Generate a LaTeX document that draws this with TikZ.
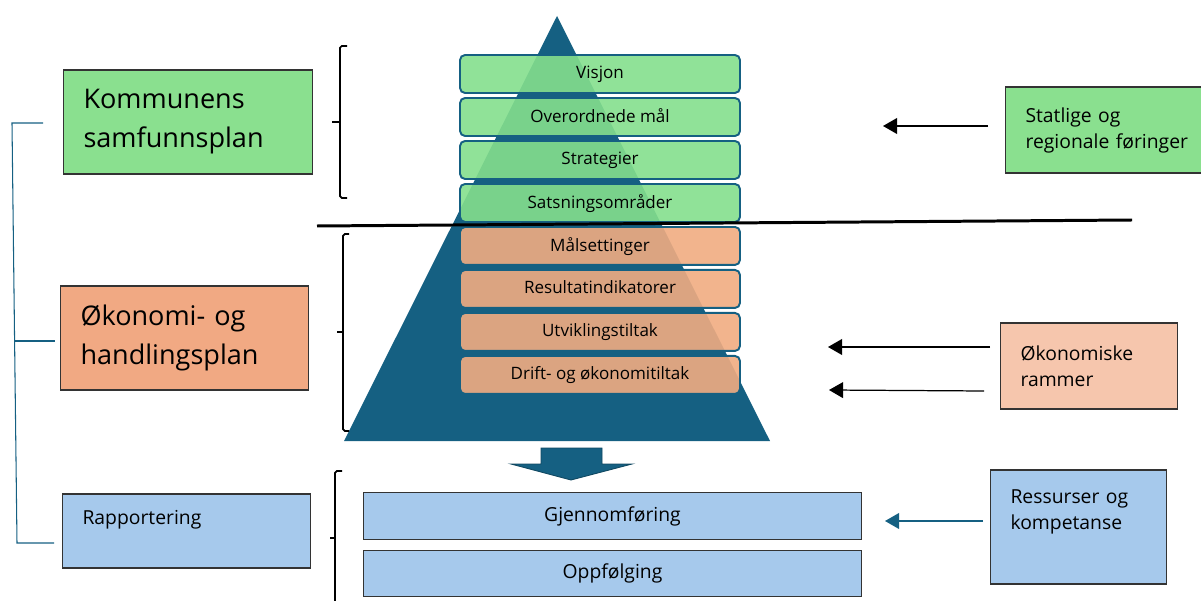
\documentclass[tikz,border=0pt]{standalone}
\usepackage{fontspec}
\setmainfont{Open Sans}
\usepackage{tikz}
\usetikzlibrary{arrows.meta}
\definecolor{pyrblue}{HTML}{156082}
\definecolor{planGreen}{HTML}{8AE08F}
\definecolor{planOrange}{HTML}{F1A983}
\definecolor{frameOrange}{HTML}{F6C6AD}
\definecolor{planBlue}{HTML}{A6C9EC}
\definecolor{layerGreen}{HTML}{84DF8D}
\definecolor{layerOrange}{HTML}{F1AC81}
\newcommand{\planfont}{\fontsize{15.4}{22.2}\selectfont}
\newcommand{\notefont}{\fontsize{11}{14.8}\selectfont}
\newcommand{\layerfont}{\fontsize{9.7}{11}\selectfont}
\tikzstyle{sidebox}  = [rectangle,
                        draw=black!80,
                        line width=.6pt,
                        anchor=west,
                        align=left,
                        inner xsep=.4cm,
                        inner ysep=.1cm]
\tikzstyle{layer}    = [rectangle,
                        rounded corners=.1cm,
                        draw=pyrblue,
                        line width=1.1pt,
                        minimum width=5.6cm,
                        minimum height=.76cm,
                        text depth=.06cm,
                        fill opacity=.9,
                        text opacity=1,
                        font=\layerfont]
\tikzstyle{line}     = [draw, -{Triangle[length=8pt,width=9pt]}, line width=.7pt]

\begin{document}
\begin{tikzpicture}[%
  x=0.02cm,
  y=-0.02cm,
  node distance = .86cm,
  % Flat boxes under the pyramid:
  flat/.style={%
    rectangle,
    draw=black!80,
    line width=.6pt,
    fill=planBlue,
    minimum width=9.98cm,
    minimum height=.93cm,
    font=\notefont
  },
  brace/.style={draw, line width=1pt, rounded corners=1pt},
  tree/.style={draw=pyrblue, line width=.6pt}
  ]

  \useasboundingbox (0,0) rectangle (1201,601);

  % Pyramid:
  \coordinate (apex) at (557,16);
  \coordinate (base-l) at (344,441);
  \coordinate (base-r) at (770,441);
  \fill[pyrblue] (apex) -- (base-r) -- (base-l) -- cycle;

  % Layers:
  \node (visjon) [layer, fill=layerGreen] at (600,74) {Visjon};
  \node (maal) [layer, fill=layerGreen, below of=visjon] {Overordnede mål};
  \node (strategier) [layer, fill=layerGreen, below of=maal] {Strategier};
  \node (satsning) [layer, fill=layerGreen, below of=strategier] {Satsningsområder};
  \node (maalsetting) [layer, fill=layerOrange, below of=satsning] {Målsettinger};
  \node (indikator) [layer, fill=layerOrange, below of=maalsetting] {Resultatindikatorer};
  \node (utvikling) [layer, fill=layerOrange, below of=indikator] {Utviklingstiltak};
  \node (drift) [layer, fill=layerOrange, below of=utvikling] {Drift- og økonomitiltak};

  \draw[line width=1.7pt] (317,226) -- (1132,220);

  % Down arrow:
  \filldraw[fill=pyrblue, draw=pyrblue!75!black, line width=.5pt]
    (541,448) -- (602,448) -- (602,464) -- (632,464) -- (571,480) -- (511,464) -- (541,464) -- cycle;

  \node (gjennomfoering) [flat] at (612.5,516) {Gjennomføring};
  \node (oppfoelging) [flat, below of=gjennomfoering, node distance=1.15cm] {Oppfølging};

  % Plans on the left:
  \node (samfunnsplan) [sidebox, fill=planGreen, text width=4.18cm, minimum height=2.08cm, font=\planfont] at (63,122) {Kommunens\\samfunnsplan};
  \node (handlingsplan) [sidebox, fill=planOrange, text width=4.16cm, minimum height=2.08cm, font=\planfont] at (60,338) {Økonomi- og\\handlingsplan};
  \node (rapportering) [sidebox, fill=planBlue, text width=4.16cm, minimum height=1.48cm, text depth=.54cm, font=\notefont] at (62,531) {Rapportering};

  % Inputs on the right:
  \node (statlige) [sidebox, fill=planGreen, text width=3.4cm, minimum height=1.72cm, font=\notefont] at (1005,130) {Statlige og\\regionale føringer};
  \node (rammer) [sidebox, fill=frameOrange, text width=2.74cm, minimum height=1.72cm, font=\notefont] at (1000,366) {Økonomiske\\rammer};
  \node (ressurser) [sidebox, fill=planBlue, text width=2.72cm, minimum height=2.28cm, text depth=1.2cm, font=\notefont] at (990,527) {Ressurser og\\kompetanse};

  % Brackets:
  \draw[brace] (347,46) -- (340,46) -- (340,198) -- (347,198);
  \draw[brace] (340,122) -- (332,122);
  \draw[brace] (349,234) -- (343,234) -- (343,431) -- (349,431);
  \draw[brace] (343,332) -- (337,332);
  \draw[brace] (342,471) -- (335,471) -- (335,610);
  \draw[brace] (335,538) -- (330,538);

  \draw[tree] (43,123) -- (12,123) -- (17,543) -- (54,543);
  \draw[tree] (15,341) -- (55,341);

  % Connectors:
  \coordinate (statlige-tip) at (883,126);
  \coordinate (rammer-tip1) at (828,347);
  \coordinate (rammer-tip2) at (829,390);
  \coordinate (ressurser-tip) at (885,521);
  \draw[line] ([shift={(-17,-4)}]statlige.west) -- (statlige-tip);
  \draw[line] ([shift={(-10,-19)}]rammer.west) -- (rammer-tip1);
  \draw[line] ([shift={(-16,25)}]rammer.west) -- (rammer-tip2);
  \draw[line, pyrblue] ([shift={(-7,-6)}]ressurser.west) -- (ressurser-tip);
\end{tikzpicture}
\end{document}
